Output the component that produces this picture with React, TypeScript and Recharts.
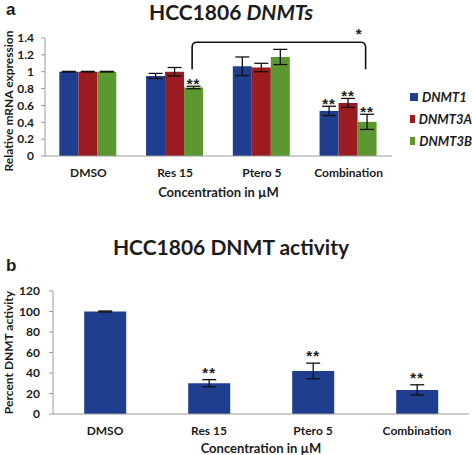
import React from 'react'
import { BarChart, Bar, XAxis, YAxis, ErrorBar, LabelList, Legend, ReferenceLine } from 'recharts'

const categories = ['DMSO', 'Res 15', 'Ptero 5', 'Combination']

// panel a: relative mRNA expression
const dnmt1 = [1.0, 0.95, 1.065, 0.535]
const dnmt1Err = [0.004, 0.03, 0.11, 0.055]
const dnmt1Sig = ['', '', '', '**']
const dnmt3a = [1.0, 1.0, 1.05, 0.63]
const dnmt3aErr = [0.004, 0.05, 0.05, 0.053]
const dnmt3aSig = ['', '', '', '**']
const dnmt3b = [1.0, 0.813, 1.175, 0.405]
const dnmt3bErr = [0.004, 0.015, 0.09, 0.09]
const dnmt3bSig = ['', '**', '', '**']
const mrnaTicks = [0, 0.2, 0.4, 0.6, 0.8, 1, 1.2, 1.4]
const bracketFrom = 'Res 15'
const bracketTo = 'Combination'
const bracketLevel = 1.35

// panel b: DNMT activity
const activity = [100, 30, 42, 23.5]
const activityErr = [0.5, 3.5, 7.6, 5]
const activitySig = ['', '**', '**', '**']
const activityTicks = [0, 20, 40, 60, 80, 100, 120]

const BLUE = '#1f3e90'
const RED = '#9b1c20'
const GREEN = '#5c972f'
const FONT = 'Lato, "Open Sans", sans-serif'
const AXIS = '#9a9a9a'
const INK = '#1c1c1c'

const series = [
  { key: 'd1', name: 'DNMT1', color: BLUE, err: dnmt1Err, sig: dnmt1Sig },
  { key: 'd3a', name: 'DNMT3A', color: RED, err: dnmt3aErr, sig: dnmt3aSig },
  { key: 'd3b', name: 'DNMT3B', color: GREEN, err: dnmt3bErr, sig: dnmt3bSig },
]

const mrnaData = categories.map((name, i) => ({
  name,
  d1: dnmt1[i], d1e: dnmt1Err[i],
  d3a: dnmt3a[i], d3ae: dnmt3aErr[i],
  d3b: dnmt3b[i], d3be: dnmt3bErr[i],
}))

const activityData = categories.map((name, i) => ({ name, v: activity[i], e: activityErr[i] }))

const tickStyle = { fontSize: 12, fill: INK, fontFamily: FONT, fontWeight: 700 }

// "**" above the error bar cap
const sigLabel = (sig: string[], err: number[], gap: number) => (p: any) => {
  const i = p.index
  if (!sig[i]) return null
  const x = p.x ?? p.viewBox?.x
  const y = p.y ?? p.viewBox?.y
  const w = p.width ?? p.viewBox?.width
  const h = p.height ?? p.viewBox?.height
  const v = Number(p.value)
  const top = y - (err[i] * h) / v
  return (
    <text x={x + w / 2} y={top - gap + 4} textAnchor="middle" fontSize={15} fontWeight={700}
      fontFamily="Arial, 'Liberation Sans', sans-serif" fill={INK} letterSpacing={1}>
      {sig[i]}
    </text>
  )
}

const Bracket = (p: any) => {
  const { x1, y1, x2 } = p
  const l = x1 + 17
  const r = x2 + 17
  const drop = 27
  return (
    <g>
      <path
        d={`M${l},${y1 + drop} L${l},${y1 + 5} Q${l},${y1} ${l + 5},${y1} L${r - 5},${y1} Q${r},${y1} ${r},${y1 + 5} L${r},${y1 + drop}`}
        fill="none" stroke="#111" strokeWidth={1.6}
      />
      <text x={r - 7} y={y1 - 3} textAnchor="middle" fontSize={15} fontWeight={700}
        fontFamily="Arial, 'Liberation Sans', sans-serif" fill={INK}>*</text>
    </g>
  )
}

const AxisTitle = ({ viewBox, text, dy = 0 }: any) => {
  const cx = 8
  const cy = viewBox.y + viewBox.height / 2 + dy
  return (
    <text x={cx} y={cy} transform={`rotate(-90 ${cx} ${cy})`} textAnchor="middle" dominantBaseline="central"
      fontSize={12} fontWeight={700} fontFamily={FONT} fill={INK}>
      {text}
    </text>
  )
}

const LegendBox = () => (
  <div style={{ fontFamily: FONT }}>
    {series.map((s) => (
      <div key={s.key} style={{ display: 'flex', alignItems: 'center', height: 22 }}>
        <span style={{ width: 8, height: 8, background: s.color, marginRight: 4 }} />
        <span style={{ fontSize: 13, fontWeight: 700, fontStyle: 'italic', color: INK }}>{s.name}</span>
      </div>
    ))}
  </div>
)

const abs = (left: number, top: number, extra: React.CSSProperties = {}): React.CSSProperties => ({
  position: 'absolute', left, top, fontFamily: FONT, color: INK, fontWeight: 700, whiteSpace: 'nowrap', ...extra,
})

const panelLetter = { fontSize: 17, lineHeight: '17px', fontFamily: 'Arial, "Liberation Sans", sans-serif' }

export default function App() {
  return (
    <div style={{ position: 'absolute', left: 0, top: 0, width: 472, height: 455, background: '#fff', overflow: 'hidden' }}>
      <div style={abs(0, 0)}>
        <BarChart width={472} height={200} data={mrnaData} margin={{ top: 38, right: 80, bottom: 14, left: 0 }}
          barCategoryGap="16.5%" barGap={0}>
          <XAxis dataKey="name" tickLine={false} stroke={AXIS} tick={tickStyle} tickMargin={6} />
          <YAxis width={45} domain={[0, 1.4]} ticks={mrnaTicks} tickSize={4} tickMargin={7}
            stroke={AXIS} tick={tickStyle} interval={0}
            label={<AxisTitle text="Relative mRNA expression" dy={4} />} />
          <Legend layout="vertical" align="center" verticalAlign="middle" content={<LegendBox />}
            wrapperStyle={{ position: 'absolute', left: 410, top: 86, width: 62 }} />
          {series.map((s) => (
            <Bar key={s.key} dataKey={s.key} name={s.name} fill={s.color} isAnimationActive={false}>
              <ErrorBar dataKey={s.key + 'e'} width={7} stroke="#111" strokeWidth={1.3} direction="y" />
              <LabelList dataKey={s.key} content={sigLabel(s.sig, s.err, 1)} />
            </Bar>
          ))}
          <ReferenceLine segment={[{ x: bracketFrom, y: bracketLevel }, { x: bracketTo, y: bracketLevel }]}
            shape={(p: any) => <Bracket {...p} />} ifOverflow="visible" />
        </BarChart>
      </div>
      <div style={abs(6, 1, panelLetter)}>a</div>
      <div style={abs(0, 0, { width: 462, textAlign: 'center', fontSize: 21, lineHeight: '24px' })}>
        HCC1806 <i>DNMTs</i>
      </div>
      <div style={abs(0, 184, { width: 437, textAlign: 'center', fontSize: 13, lineHeight: '16px' })}>Concentration in µM</div>

      <div style={abs(0, 230)}>
        <BarChart width={472} height={225} data={activityData} margin={{ top: 61, right: 3, bottom: 11, left: 0 }}
          barCategoryGap="30%">
          <XAxis dataKey="name" tickLine={false} stroke={AXIS} tick={tickStyle} tickMargin={6} />
          <YAxis width={53} domain={[0, 120]} ticks={activityTicks} tickSize={4} tickMargin={9}
            stroke={AXIS} tick={tickStyle} interval={0}
            label={<AxisTitle text="Percent DNMT activity" dy={0} />} />
          <Bar dataKey="v" fill={BLUE} isAnimationActive={false}>
            <ErrorBar dataKey="e" width={7} stroke="#111" strokeWidth={1.3} direction="y" />
            <LabelList dataKey="v" content={sigLabel(activitySig, activityErr, 6)} />
          </Bar>
        </BarChart>
      </div>
      <div style={abs(0, 234, { width: 462, textAlign: 'center', fontSize: 21, lineHeight: '26px' })}>
        HCC1806 DNMT activity
      </div>
      <div style={abs(6, 257, panelLetter)}>b</div>
      <div style={abs(53, 442, { width: 416, textAlign: 'center', fontSize: 13, lineHeight: '13px' })}>Concentration in µM</div>
    </div>
  )
}
